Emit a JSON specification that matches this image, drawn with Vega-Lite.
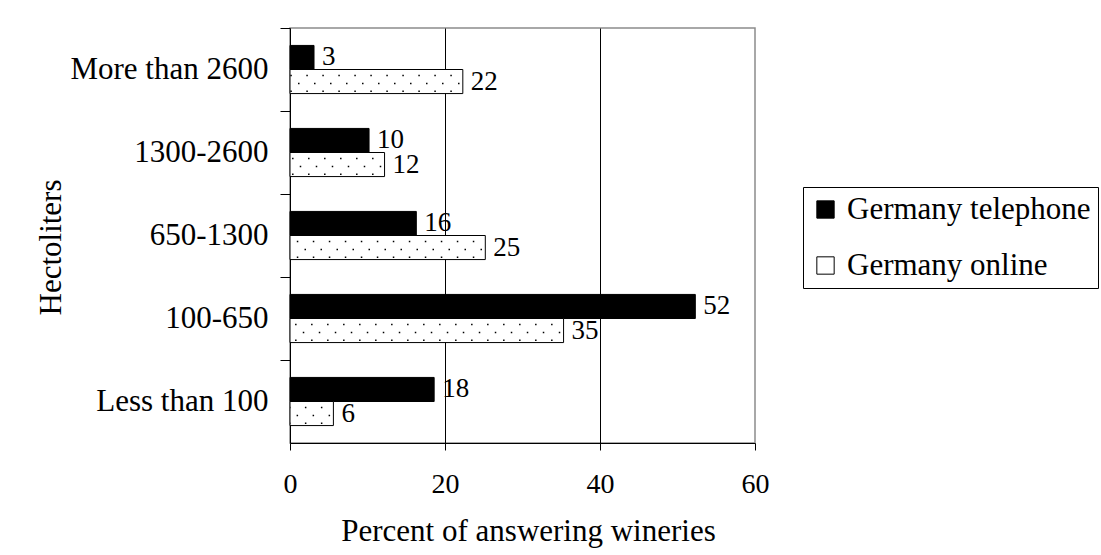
{
  "$schema": "https://vega.github.io/schema/vega-lite/v6.json",
  "autosize": {"type": "none"},
  "padding": {"left": 290, "top": 28, "right": 346, "bottom": 112},
  "width": 465,
  "height": 415,
  "background": "white",
  "config": {
    "font": "Liberation Serif",
    "view": {"stroke": "#8c8c8c", "strokeWidth": 1.5},
    "axis": {"labelColor": "black", "titleColor": "black", "domainColor": "black", "tickColor": "black", "labelFont": "Liberation Serif", "titleFont": "Liberation Serif", "titleFontWeight": "normal"},
    "legend": {"labelFont": "Liberation Serif"}
  },
  "data": {
    "values": [
      {"cat": "More than 2600", "series": "Germany telephone", "value": 3.1, "label": "3"},
      {"cat": "More than 2600", "series": "Germany online", "value": 22.3, "label": "22"},
      {"cat": "1300-2600", "series": "Germany telephone", "value": 10.2, "label": "10"},
      {"cat": "1300-2600", "series": "Germany online", "value": 12.2, "label": "12"},
      {"cat": "650-1300", "series": "Germany telephone", "value": 16.3, "label": "16"},
      {"cat": "650-1300", "series": "Germany online", "value": 25.2, "label": "25"},
      {"cat": "100-650", "series": "Germany telephone", "value": 52.3, "label": "52"},
      {"cat": "100-650", "series": "Germany online", "value": 35.3, "label": "35"},
      {"cat": "Less than 100", "series": "Germany telephone", "value": 18.6, "label": "18"},
      {"cat": "Less than 100", "series": "Germany online", "value": 5.6, "label": "6"}
    ]
  },
  "layer": [
    {
      "mark": {"type": "bar", "stroke": "black", "strokeWidth": 1},
      "encoding": {
        "y": {
          "field": "cat", "type": "nominal",
          "sort": ["More than 2600", "1300-2600", "650-1300", "100-650", "Less than 100"],
          "scale": {"paddingInner": 0.42, "paddingOuter": 0.21},
          "axis": {
            "title": "Hectoliters", "titleFontSize": 31, "titleAngle": 270, "titleAlign": "center", "titleBaseline": "middle",
            "titleX": -239, "titleY": 219,
            "labelFontSize": 31, "labelPadding": 12, "tickSize": 10, "tickOffset": -41.5, "labelOffset": 41.5, "grid": false,
            "labelLimit": 400, "domainWidth": 1
          }
        },
        "x": {
          "field": "value", "type": "quantitative",
          "scale": {"domain": [0, 60], "nice": false},
          "axis": {
            "values": [0, 20, 40, 60], "title": "Percent of answering wineries", "titleFontSize": 31,
            "titleBaseline": "alphabetic", "titleY": 97, "titleX": 238,
            "labelFontSize": 28, "labelPadding": 20, "tickSize": 7, "labelFlush": false,
            "grid": true, "gridColor": {"condition": {"test": "datum.value === 0 || datum.value === 60", "value": "transparent"}, "value": "black"},
            "gridOpacity": 1, "gridWidth": 1
          }
        },
        "yOffset": {"field": "series", "type": "nominal", "sort": ["Germany telephone", "Germany online"], "scale": {"paddingInner": 0, "paddingOuter": 0}},
        "fill": {
          "field": "series", "type": "nominal",
          "scale": {"domain": ["Germany telephone", "Germany online"], "range": ["black", "white"]},
          "legend": {
            "orient": "none", "legendX": 513, "legendY": 159, "title": null,
            "strokeColor": "black", "padding": 7, "labelFontSize": 31, "labelColor": "black",
            "symbolType": "square", "symbolSize": 300, "symbolStrokeColor": "black", "symbolStrokeWidth": 1,
            "symbolOpacity": 1, "rowPadding": 24, "labelOffset": 6, "labelLimit": 400
          }
        }
      }
    },
    {
      "transform": [{"filter": "datum.series === 'Germany online'"}],
      "mark": {"type": "rule", "color": "black", "strokeWidth": 1.5, "strokeDash": [1.5, 14.5], "strokeDashOffset": 5},
      "encoding": {
        "x": {"field": "value", "type": "quantitative"},
        "x2": {"datum": 0},
        "y": {"field": "cat", "type": "nominal", "sort": ["More than 2600", "1300-2600", "650-1300", "100-650", "Less than 100"], "bandPosition": 0.625}
      }
    },
    {
      "transform": [{"filter": "datum.series === 'Germany online'"}],
      "mark": {"type": "rule", "color": "black", "strokeWidth": 1.5, "strokeDash": [1.5, 14.5], "strokeDashOffset": 12.7},
      "encoding": {
        "x": {"field": "value", "type": "quantitative"},
        "x2": {"datum": 0},
        "y": {"field": "cat", "type": "nominal", "sort": ["More than 2600", "1300-2600", "650-1300", "100-650", "Less than 100"], "bandPosition": 0.79}
      }
    },
    {
      "transform": [{"filter": "datum.series === 'Germany online'"}],
      "mark": {"type": "rule", "color": "black", "strokeWidth": 1.5, "strokeDash": [1.5, 14.5], "strokeDashOffset": 5},
      "encoding": {
        "x": {"field": "value", "type": "quantitative"},
        "x2": {"datum": 0},
        "y": {"field": "cat", "type": "nominal", "sort": ["More than 2600", "1300-2600", "650-1300", "100-650", "Less than 100"], "bandPosition": 0.95}
      }
    },
    {
      "mark": {"type": "text", "align": "left", "baseline": "middle", "dx": 8, "fontSize": 27, "color": "black", "font": "Liberation Serif"},
      "encoding": {
        "x": {"field": "value", "type": "quantitative"},
        "y": {"field": "cat", "type": "nominal", "sort": ["More than 2600", "1300-2600", "650-1300", "100-650", "Less than 100"]},
        "yOffset": {"field": "series", "type": "nominal", "sort": ["Germany telephone", "Germany online"]},
        "text": {"field": "label"}
      }
    }
  ]
}
